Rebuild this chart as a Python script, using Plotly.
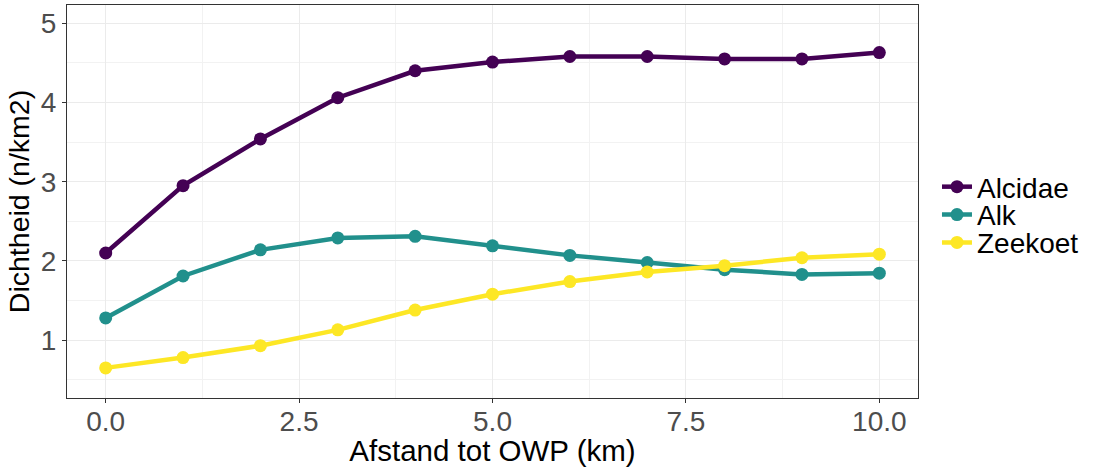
import plotly.graph_objects as go

afstand = [0, 1, 2, 3, 4, 5, 6, 7, 8, 9, 10]
alcidae = [2.10, 2.95, 3.54, 4.06, 4.40, 4.51, 4.58, 4.58, 4.55, 4.55, 4.63]
alk = [1.28, 1.81, 2.14, 2.29, 2.31, 2.19, 2.07, 1.98, 1.89, 1.83, 1.845]
zeekoet = [0.65, 0.78, 0.93, 1.13, 1.38, 1.58, 1.74, 1.86, 1.94, 2.04, 2.085]

series = [("Alcidae", alcidae, "#440154"), ("Alk", alk, "#21908C"), ("Zeekoet", zeekoet, "#FDE725")]
legend_ids = ["legend", "legend2", "legend3"]
legend_y = [0.537, 0.466, 0.395]

font = "Liberation Sans, Arial, sans-serif"
fig = go.Figure()
for (name, vals, col), lid in zip(series, legend_ids):
    fig.add_trace(go.Scatter(x=afstand, y=vals, mode="lines+markers", name=name,
                             line=dict(color=col, width=4.5),
                             marker=dict(color=col, size=13),
                             legend=lid))

leg_common = dict(x=1.0223, xanchor="left", yanchor="middle",
                  font=dict(family=font, size=28, color="black"),
                  itemwidth=30, bgcolor="rgba(0,0,0,0)", borderwidth=0)
layout_legends = {lid: dict(y=yy, **leg_common) for lid, yy in zip(legend_ids, legend_y)}

fig.update_layout(
    width=1094, height=467,
    margin=dict(l=67, r=176, t=5, b=69, autoexpand=False),
    plot_bgcolor="white", paper_bgcolor="white",
    font=dict(family=font, size=28, color="black"),
    showlegend=True,
    **layout_legends,
)
fig.update_xaxes(range=[-0.5, 10.5], tickvals=[0, 2.5, 5, 7.5, 10],
                 ticktext=["0.0", "2.5", "5.0", "7.5", "10.0"],
                 showgrid=True, gridcolor="#EBEBEB", gridwidth=1.3,
                 minor=dict(tickvals=[1.25, 3.75, 6.25, 8.75], showgrid=True, gridcolor="#F2F2F2", gridwidth=0.7),
                 showline=True, linecolor="#333333", linewidth=1.2, mirror=True,
                 ticks="outside", ticklen=4, tickcolor="#333333",
                 ticklabelstandoff=-6,
                 tickfont=dict(size=28, color="#4D4D4D"),
                 title=dict(text="Afstand tot OWP (km)", font=dict(size=29.5, color="black"), standoff=2),
                 zeroline=False, automargin=False)
fig.update_yaxes(range=[0.27, 5.23], tickvals=[1, 2, 3, 4, 5],
                 showgrid=True, gridcolor="#EBEBEB", gridwidth=1.3,
                 minor=dict(tickvals=[0.5, 1.5, 2.5, 3.5, 4.5], showgrid=True, gridcolor="#F2F2F2", gridwidth=0.7),
                 showline=True, linecolor="#333333", linewidth=1.2, mirror=True,
                 ticks="outside", ticklen=4, tickcolor="#333333",
                 tickfont=dict(size=28, color="#4D4D4D"),
                 title=dict(text="Dichtheid (n/km2)", font=dict(size=28.5, color="black"), standoff=2),
                 zeroline=False, automargin=False)

fig.write_html("out.html")
